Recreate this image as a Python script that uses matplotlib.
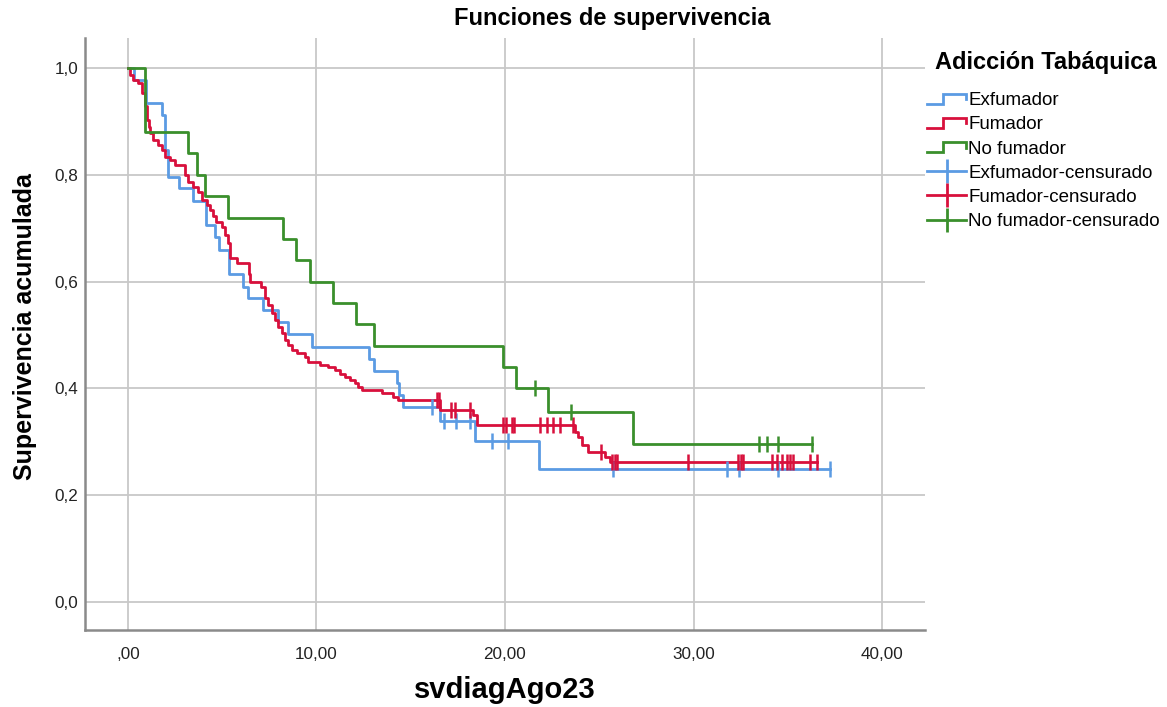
"""Kaplan-Meier style survival curves by smoking status (SPSS look)."""

import matplotlib

matplotlib.use("Agg")

import matplotlib.pyplot as plt
import matplotlib.ticker as mticker
import numpy as np
from matplotlib.legend_handler import HandlerBase
from matplotlib.lines import Line2D

plt.rcParams["font.family"] = ["Liberation Sans", "DejaVu Sans"]

GROUPS = ["Exfumador", "Fumador", "No fumador"]
COLORS = ["#5b9be3", "#d8103c", "#3a8f2c"]

# Exfumador: event times, survival after each event, censored times
exf_times = [0.3, 0.95, 1.8, 1.95, 2.12, 2.72, 3.47, 4.14, 4.62, 4.85, 5.38, 6.09,
             6.38, 7.18, 7.98, 8.51, 9.75, 12.8, 13.05, 14.28, 14.39, 14.6, 16.55,
             18.4, 21.8]
exf_surv = [0.978, 0.934, 0.912, 0.846, 0.796, 0.775, 0.750, 0.706, 0.683, 0.659,
            0.614, 0.590, 0.569, 0.547, 0.525, 0.502, 0.478, 0.456, 0.433, 0.410,
            0.388, 0.365, 0.340, 0.301, 0.250]
exf_cens = [16.15, 16.76, 17.4, 18.14, 19.3, 20.17, 25.75, 31.76, 32.43, 34.5, 37.24]

# Fumador
fum_times = [0.1, 0.28, 0.55, 0.73, 0.9, 0.99, 1.1, 1.17, 1.34, 1.61, 1.79, 1.96,
             2.23, 2.49, 3.02, 3.2, 3.47, 3.73, 3.91, 4.17, 4.35, 4.53, 4.67, 4.97,
             5.15, 5.32, 5.41, 5.77, 6.4, 6.47, 7.05, 7.27, 7.44, 7.62, 7.8, 7.97,
             8.15, 8.33, 8.5, 8.68, 8.95, 9.39, 9.57, 10.2, 10.63, 10.98, 11.25,
             11.51, 11.78, 12.04, 12.22, 12.4, 13.5, 14.05, 14.34, 16.55, 18.32,
             18.5, 23.71, 23.89, 24.07, 24.4, 25.3, 25.57]
fum_surv = [0.987, 0.978, 0.972, 0.953, 0.928, 0.903, 0.89, 0.878, 0.865, 0.856,
            0.846, 0.834, 0.828, 0.818, 0.80, 0.787, 0.778, 0.768, 0.753, 0.743,
            0.734, 0.722, 0.712, 0.703, 0.687, 0.672, 0.644, 0.634, 0.615, 0.60,
            0.59, 0.569, 0.556, 0.541, 0.528, 0.516, 0.503, 0.491, 0.481, 0.472,
            0.466, 0.459, 0.45, 0.444, 0.441, 0.434, 0.428, 0.422, 0.416, 0.41,
            0.403, 0.397, 0.391, 0.384, 0.378, 0.36, 0.35, 0.331, 0.319, 0.31,
            0.294, 0.281, 0.272, 0.263]
fum_cens = [16.4, 16.52, 17.15, 17.35, 18.14, 19.91, 20.03, 20.35, 20.48, 21.86,
            22.25, 22.52, 22.9, 23.6, 25.1, 25.66, 25.84, 25.96, 29.72, 32.38,
            32.5, 32.6, 34.15, 34.41, 34.68, 34.94, 35.12, 35.26, 36.18, 36.54]

# No fumador
nof_times = [0.9, 3.2, 3.66, 4.1, 5.3, 8.2, 8.9, 9.65, 10.9, 12.1, 13.05, 19.9,
             20.6, 22.3, 26.8]
nof_surv = [0.88, 0.84, 0.80, 0.76, 0.72, 0.68, 0.64, 0.60, 0.56, 0.52, 0.48,
            0.44, 0.40, 0.356, 0.297]
nof_cens = [21.6, 23.5, 33.5, 33.9, 34.5, 36.3]

X_TICKS = [0, 10, 20, 30, 40]
X_LABELS = [",00", "10,00", "20,00", "30,00", "40,00"]
Y_TICKS = [0.0, 0.2, 0.4, 0.6, 0.8, 1.0]


class HandlerStep(HandlerBase):
    """Little step glyph like the one SPSS draws in its legend."""

    def create_artists(self, legend, orig_handle, xdescent, ydescent,
                       width, height, fontsize, trans):
        x0, y0 = -xdescent, -ydescent
        lo, hi = y0 + height * 0.1, y0 + height * 0.85
        xs = [x0, x0 + width * 0.42, x0 + width * 0.42, x0 + width, x0 + width]
        ys = [lo, lo, hi, hi, y0 + height * 0.45]
        line = Line2D(xs, ys, color=orig_handle.get_color(),
                      lw=orig_handle.get_linewidth(), transform=trans,
                      solid_joinstyle="miter")
        return [line]


def surv_at(times, surv, t):
    idx = np.searchsorted(times, t, side="right") - 1
    return 1.0 if idx < 0 else surv[idx]


def main() -> None:
    fig = plt.figure(figsize=(11.67, 7.07), dpi=100)
    ax = fig.add_axes([85 / 1167, 1 - 630 / 707, 840 / 1167, 592 / 707])

    data = [
        (exf_times, exf_surv, exf_cens),
        (fum_times, fum_surv, fum_cens),
        (nof_times, nof_surv, nof_cens),
    ]

    step_handles, cens_handles = [], []
    for name, color, (times, surv, cens) in zip(GROUPS, COLORS, data):
        end = max(max(times), max(cens))
        xs = [0.0] + list(times) + [end]
        ys = [1.0] + list(surv) + [surv[-1]]
        (ln,) = ax.step(xs, ys, where="post", color=color, lw=2.0, zorder=3)
        cy = [surv_at(times, surv, t) for t in cens]
        ax.plot(cens, cy, ls="none", marker="|", ms=11, mew=1.8,
                color=color, zorder=4)
        step_handles.append(ln)
        cens_handles.append(Line2D([], [], color=color, lw=2.0, marker="|",
                                   ms=17, mew=2.0))

    ax.set_xlim(-2.28, 42.28)
    ax.set_ylim(-0.052, 1.056)
    ax.set_xticks(X_TICKS)
    ax.set_xticklabels(X_LABELS)
    ax.set_yticks(Y_TICKS)
    ax.yaxis.set_major_formatter(
        mticker.FuncFormatter(lambda v, _: f"{v:.1f}".replace(".", ","))
    )
    ax.tick_params(length=0, labelsize=12.3, colors="#222222")
    ax.tick_params(axis="x", pad=12)
    ax.tick_params(axis="y", pad=5)
    ax.grid(color="#c8c8c8", lw=1.3)
    ax.set_axisbelow(True)
    for side in ("top", "right"):
        ax.spines[side].set_visible(False)
    for side in ("left", "bottom"):
        ax.spines[side].set_color("#8a8a8a")
        ax.spines[side].set_linewidth(1.8)

    fig.text(505 / 1167, 1 - 690 / 707, "svdiagAgo23", ha="center",
             va="center", fontsize=21, fontweight="bold")
    fig.text(25 / 1167, 1 - 327 / 707, "Supervivencia acumulada",
             ha="center", va="center", rotation=90, fontsize=18,
             fontweight="bold")
    fig.text(612 / 1167, 1 - 18 / 707, "Funciones de supervivencia",
             ha="center", va="center", fontsize=17, fontweight="bold")

    # Legend title drawn on its own so the handles can sit a bit further left
    fig.text(935 / 1167, 1 - 62 / 707, "Adicción Tabáquica", ha="left",
             va="center", fontsize=17, fontweight="bold")
    labels = GROUPS + [f"{g}-censurado" for g in GROUPS]
    fig.legend(
        step_handles + cens_handles,
        labels,
        loc="upper left",
        bbox_to_anchor=(925 / 1167, 1 - 90 / 707),
        frameon=False,
        fontsize=13.5,
        handler_map={h: HandlerStep() for h in step_handles},
        handlelength=2.1,
        handletextpad=0.1,
        labelspacing=0.38,
        numpoints=1,
        borderpad=0.1,
        borderaxespad=0.0,
    )

    fig.savefig("out.png", dpi=100)
    plt.close(fig)


if __name__ == "__main__":
    main()
